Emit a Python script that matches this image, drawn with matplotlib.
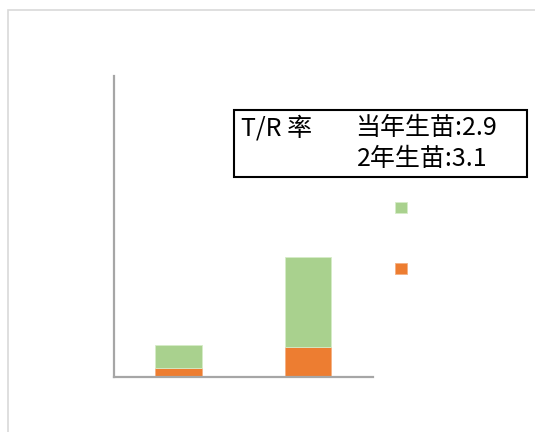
import matplotlib.pyplot as plt
from matplotlib.patches import Rectangle

plt.rcParams['font.family'] = ['Noto Sans CJK SC', 'DejaVu Sans']

# data: seedling type, below-ground (root) and above-ground (top) parts
categories = ['当年生苗', '2年生苗']
root_vals = [0.27, 0.97]
top_vals = [0.78, 3.0]
tr_ratio = [2.9, 3.1]

W, H = 535, 432
fig = plt.figure(figsize=(W / 100, H / 100), dpi=100)
ax = fig.add_axes([113.5 / W, 1 - 376.5 / H, 259.2 / W, 300.5 / H])

x = range(len(categories))
b_root = ax.bar(x, root_vals, width=0.36, color='#ed7d31', edgecolor='#f4b183', linewidth=0.6)
b_top = ax.bar(x, top_vals, width=0.36, bottom=root_vals, color='#a9d18e', edgecolor='#d6ecc8', linewidth=0.6)

ax.set_xlim(-0.5, 1.5)
ax.set_ylim(0, 10)
ax.set_xticks([])
ax.set_yticks([])
for s in ['top', 'right']:
    ax.spines[s].set_visible(False)
for s in ['left', 'bottom']:
    ax.spines[s].set_color('#a6a6a6')
    ax.spines[s].set_linewidth(1.6)

# legend without text
fs = 10
px = fs * 100 / 72
ax.legend([b_top, b_root], ['', ''], frameon=False, fontsize=fs,
          handlelength=12 / px, handleheight=12 / px, labelspacing=(59 - 12) / px,
          borderpad=0, borderaxespad=0, handletextpad=0,
          loc='upper left', bbox_to_anchor=(395 / W, 1 - 201 / H),
          bbox_transform=fig.transFigure)

# outer light frame
fig.patches.append(Rectangle((8 / W, -0.1), 1.2, 1 - 10 / H + 0.1, transform=fig.transFigure,
                             fill=False, edgecolor='#d9d9d9', linewidth=1.2))

# T/R text box
fig.patches.append(Rectangle((234 / W, 1 - 177 / H), (527 - 234) / W, (177 - 110) / H,
                             transform=fig.transFigure, fill=False, edgecolor='black', linewidth=1.5))
tsize = 18
fig.text(241 / W, 1 - 128 / H, 'T/R 率', fontsize=tsize, va='center', ha='left')
fig.text(355 / W, 1 - 128 / H, '{}:{}'.format(categories[0], tr_ratio[0]), fontsize=tsize, va='center', ha='left')
fig.text(357 / W, 1 - 159 / H, '{}:{}'.format(categories[1], tr_ratio[1]), fontsize=tsize, va='center', ha='left')

fig.savefig('out.png', dpi=100)
